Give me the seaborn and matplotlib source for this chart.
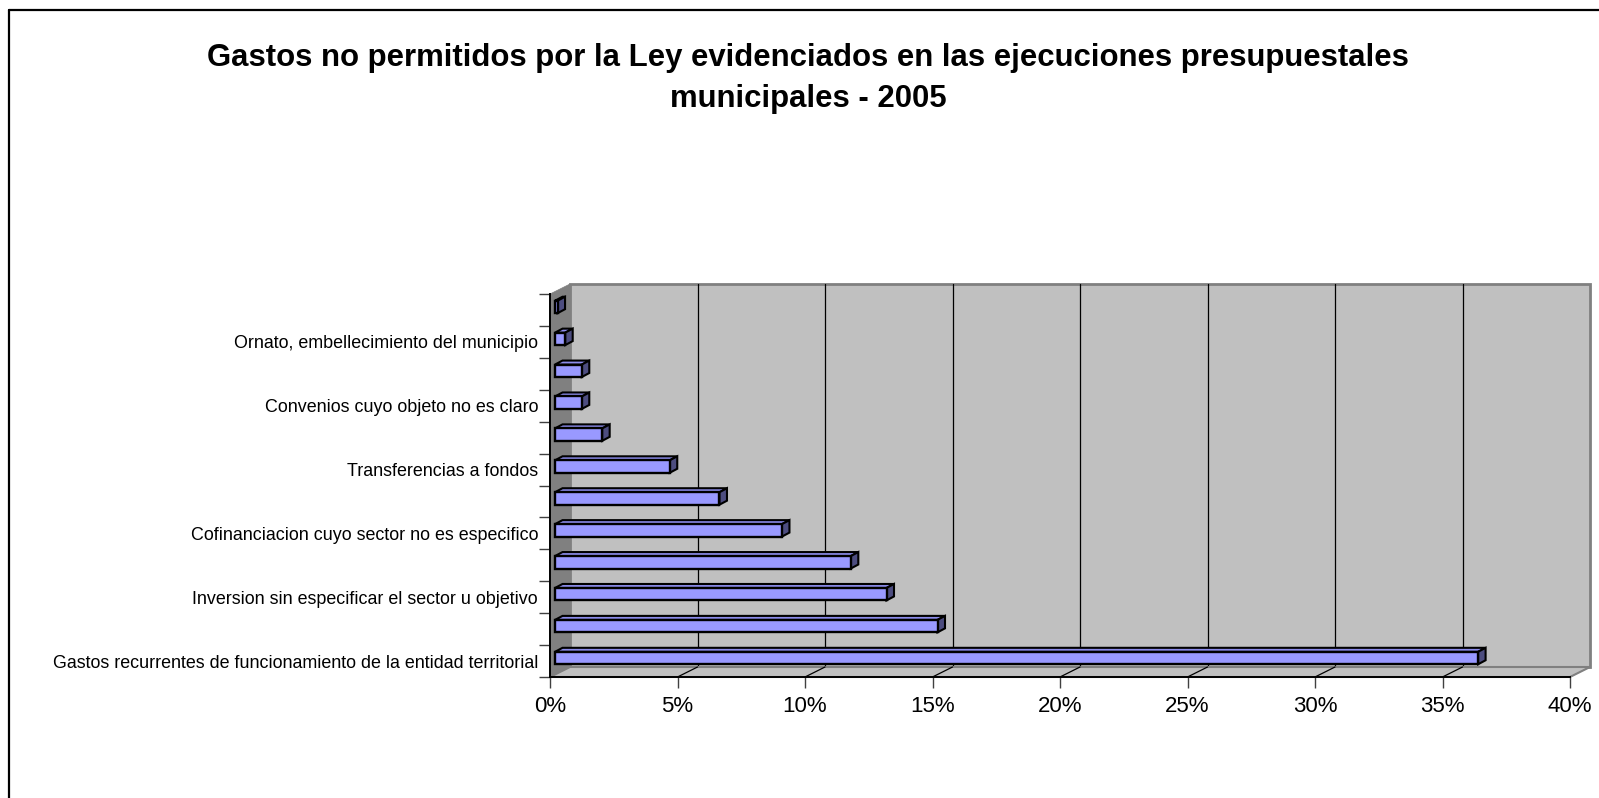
import numpy as np
import pandas as pd
import seaborn as sns
import matplotlib.pyplot as plt
from matplotlib.patches import Polygon, Rectangle
from matplotlib.lines import Line2D
from matplotlib.transforms import ScaledTranslation
from matplotlib.ticker import FuncFormatter

# data, listed top to bottom as drawn
categories = ["c12", "c11", "c10", "c09", "c08", "c07", "c06", "c05", "c04", "c03", "c02", "c01"]
tick_labels = [
    "",
    "Ornato, embellecimiento del municipio",
    "",
    "Convenios cuyo objeto no es claro",
    "",
    "Transferencias a fondos",
    "",
    "Cofinanciacion cuyo sector no es especifico",
    "",
    "Inversion sin especificar el sector u objetivo",
    "",
    "Gastos recurrentes de funcionamiento de la entidad territorial",
]
values = [0.1, 0.4, 1.05, 1.05, 1.85, 4.5, 6.45, 8.9, 11.6, 13.0, 15.0, 36.2]
x_ticks = [0, 5, 10, 15, 20, 25, 30, 35, 40]
title_lines = ["Gastos no permitidos por la Ley evidenciados en las ejecuciones presupuestales",
               "municipales - 2005"]

df = pd.DataFrame({"cat": categories, "pct": values})

sns.set_style("white")
plt.rcParams["font.family"] = ["Liberation Sans", "DejaVu Sans"]
plt.rcParams["text.color"] = "black"
plt.rcParams["xtick.labelcolor"] = "black"
plt.rcParams["ytick.labelcolor"] = "black"

W, H = 1599, 798
fig = plt.figure(figsize=(W / 100, H / 100), dpi=100)

# front plane of the 3D box, in pixels
x0, x1, ytop, ybot = 550, 1570, 294, 677
ax = fig.add_axes([x0 / W, (H - ybot) / H, (x1 - x0) / W, (ybot - ytop) / H])
ax.set_facecolor("none")

sns.barplot(data=df, x="pct", y="cat", order=categories, orient="h",
            color="#9999FF", saturation=1, width=0.39,
            edgecolor="black", linewidth=1.7, ax=ax, zorder=5)

ax.set_xlim(0, 40)
ax.set_ylim(11.5, -0.5)

px_x = (x1 - x0) / 40.0          # pixels per percent
px_y = (ybot - ytop) / 12.0      # pixels per category
# wall depth (20 px right, 10 px up)
wdx, wdy = 20 / px_x, 10 / px_y
top_y, bot_y = -0.5, 11.5

# back wall
ax.add_patch(Rectangle((wdx, top_y - wdy), 40, 12, fc="#C0C0C0", ec="#808080",
                       lw=2, zorder=0, clip_on=False))
for xv in x_ticks[1:-1]:
    ax.add_line(Line2D([xv + wdx, xv + wdx], [top_y - wdy, bot_y - wdy],
                       color="black", lw=0.9, zorder=1, clip_on=False))
# left wall
ax.add_patch(Polygon([(0, top_y), (wdx, top_y - wdy), (wdx, bot_y - wdy), (0, bot_y)],
                     closed=True, fc="#808080", ec="#808080", lw=0.5, zorder=2, clip_on=False))
# floor
ax.add_patch(Polygon([(0, bot_y), (40, bot_y), (40 + wdx, bot_y - wdy), (wdx, bot_y - wdy)],
                     closed=True, fc="#C0C0C0", ec="#808080", lw=1.5, zorder=2, clip_on=False))
for xv in x_ticks[1:-1]:
    ax.add_line(Line2D([xv, xv + wdx], [bot_y, bot_y - wdy],
                       color="black", lw=0.9, zorder=2, clip_on=False))

# bars sit a little behind the front plane, with a shallow top and side face
shift = ScaledTranslation(5 / 100, 3 / 100, fig.dpi_scale_trans)
bdx, bdy = 7.5 / px_x, 4 / px_y
for p in ax.patches:
    if not isinstance(p, Rectangle) or p.get_zorder() != 5:
        continue
    p.set_transform(ax.transData + shift)
    bx, by, bw, bh = p.get_x(), p.get_y(), p.get_width(), p.get_height()
    top_face = [(bx, by), (bx + bw, by), (bx + bw + bdx, by - bdy), (bx + bdx, by - bdy)]
    side_face = [(bx + bw, by), (bx + bw + bdx, by - bdy),
                 (bx + bw + bdx, by + bh - bdy), (bx + bw, by + bh)]
    ax.add_patch(Polygon(top_face, closed=True, fc="#8C8CEB", ec="black", lw=1.5,
                         zorder=4, transform=ax.transData + shift, clip_on=False))
    ax.add_patch(Polygon(side_face, closed=True, fc="#4D4D80", ec="black", lw=1.5,
                         zorder=4, transform=ax.transData + shift, clip_on=False))

# axes, ticks and labels
for side in ["top", "right"]:
    ax.spines[side].set_visible(False)
for side in ["left", "bottom"]:
    ax.spines[side].set_color("black")
    ax.spines[side].set_linewidth(1.4)
    ax.spines[side].set_zorder(6)

ax.set_xticks(x_ticks)
ax.xaxis.set_major_formatter(FuncFormatter(lambda v, _: f"{v:.0f}%"))
ax.tick_params(axis="x", direction="out", length=8, width=1, color="#404040",
               labelsize=16, pad=6, bottom=True)

ax.set_yticks(range(len(categories)))
ax.set_yticklabels(tick_labels)
ax.set_yticks(np.arange(-0.5, 11.6, 1.0), minor=True)
ax.tick_params(axis="y", which="major", length=0, labelsize=12.9, pad=8.6)
ax.tick_params(axis="y", which="minor", direction="out", length=8, width=1,
               color="#404040", left=True)
ax.set_xlabel("")
ax.set_ylabel("")

fig.text(808 / W, 1 - 58 / H, title_lines[0], ha="center", va="center", fontsize=22.4,
         fontweight="bold")
fig.text(808 / W, 1 - 99 / H, title_lines[1], ha="center", va="center", fontsize=22.4,
         fontweight="bold")

# chart frame (top and left edges only)
fig.add_artist(Line2D([9 / W, 1], [1 - 10 / H, 1 - 10 / H], color="black", lw=1.6))
fig.add_artist(Line2D([9 / W, 9 / W], [0, 1 - 10 / H], color="black", lw=1.6))

fig.savefig("out.png", dpi=100)
